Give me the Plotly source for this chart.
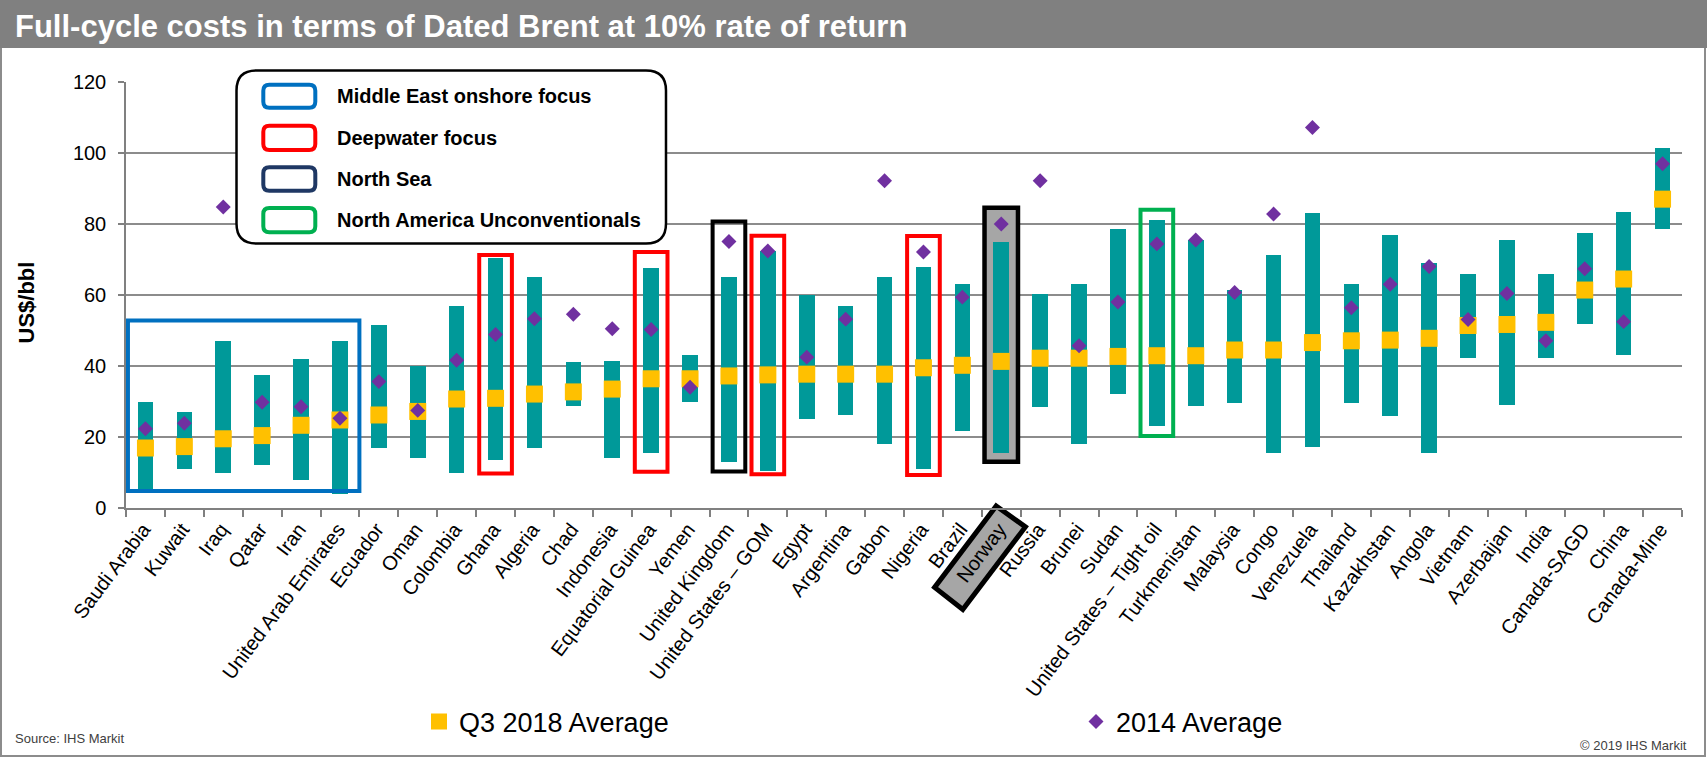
import plotly.graph_objects as go

# ---------------- data ----------------
categories = ["Saudi Arabia", "Kuwait", "Iraq", "Qatar", "Iran", "United Arab Emirates", "Ecuador",
              "Oman", "Colombia", "Ghana", "Algeria", "Chad", "Indonesia", "Equatorial Guinea", "Yemen",
              "United Kingdom", "United States \u2013 GOM", "Egypt", "Argentina", "Gabon", "Nigeria",
              "Brazil", "Norway", "Russia", "Brunei", "Sudan", "United States \u2013 Tight oil",
              "Turkmenistan", "Malaysia", "Congo", "Venezuela", "Thailand", "Kazakhstan", "Angola",
              "Vietnam", "Azerbaijan", "India", "Canada-SAGD", "China", "Canada-Mine"]
range_low = [5, 11, 10, 12, 8, 4, 17, 14, 10, 13.5, 17, 28.6, 14, 15.4, 30, 13, 10.3, 25, 26.2, 18,
             11, 21.8, 15.6, 28.4, 18, 32, 23.2, 28.6, 29.7, 15.4, 17.3, 29.7, 26, 15.4, 42.2, 29,
             42.2, 51.7, 43, 78.6]
range_high = [30, 27, 47, 37.4, 42, 47, 51.5, 40, 57, 70.5, 65, 41, 41.5, 67.5, 43, 65, 72.5, 60, 57,
              65, 68, 63, 75, 60.3, 63, 78.5, 81, 75.5, 61.5, 71.2, 83, 63.2, 77, 69, 66, 75.5, 66,
              77.5, 83.5, 101.5]
avg_q3_2018 = [16.9, 17.3, 19.5, 20.4, 23.3, 24.8, 26.2, 27.2, 30.7, 30.9, 32.1, 32.7, 33.5, 36.4,
               36.4, 37.2, 37.5, 37.7, 37.7, 37.7, 39.5, 40.2, 41.3, 42.2, 42.2, 42.7, 42.9, 42.9,
               44.5, 44.5, 46.6, 47.1, 47.3, 47.8, 51.4, 51.7, 52.3, 61.4, 64.5, 87]
avg_2014 = [22.3, 23.9, 84.8, 29.8, 28.5, 25.3, 35.6, 27.5, 41.6, 48.9, 53.3, 54.6, 50.5, 50.3, 34,
            75.1, 72.4, 42.5, 53.2, 92.2, 72.1, 59.4, 80, 92.2, 45.7, 58, 74.4, 75.5, 60.7, 82.8,
            107.2, 56.4, 63, 68, 53.1, 60.4, 47.1, 67.4, 52.5, 97]
y_ticks = [0, 20, 40, 60, 80, 100, 120]

group_labels = ["Middle East onshore focus", "Deepwater focus", "North Sea", "North America Unconventionals"]

# ---------------- styling ----------------
FONT = "Liberation Sans, Arial, sans-serif"
W, H = 1707, 757
L, R, T, B = 126, 25, 82, 249
PW, PH = W - L - R, H - T - B

BLUE, RED, NAVY, GREEN, BLACK = "#0070C0", "#FF0000", "#1F3864", "#00B050", "#000000"


def px(x):
    return (x - L) / PW


def py(y):
    return (H - B - y) / PH


def rrect(x0, y0, x1, y1, r):
    pts = [("M", [(x0 + r, y0)]), ("L", [(x1 - r, y0)]), ("Q", [(x1, y0), (x1, y0 + r)]),
           ("L", [(x1, y1 - r)]), ("Q", [(x1, y1), (x1 - r, y1)]), ("L", [(x0 + r, y1)]),
           ("Q", [(x0, y1), (x0, y1 - r)]), ("L", [(x0, y0 + r)]), ("Q", [(x0, y0), (x0 + r, y0)])]
    s = ""
    for cmd, ps in pts:
        s += cmd + " ".join(f"{px(a):.5f},{py(b):.5f}" for a, b in ps) + " "
    return s + "Z"


fig = go.Figure()

fig.add_trace(go.Bar(
    x=categories, y=[h - l for h, l in zip(range_high, range_low)], base=range_low,
    width=0.4, marker=dict(color="#009999", line=dict(width=0)), showlegend=False, hoverinfo="skip"))

fig.add_trace(go.Scatter(
    x=categories, y=avg_q3_2018, mode="markers", name="Q3 2018 Average",
    marker=dict(symbol="square", size=17, color="#FFC000", line=dict(width=0)), legend="legend"))

fig.add_trace(go.Scatter(
    x=categories, y=avg_2014, mode="markers", name="2014 Average",
    marker=dict(symbol="diamond", size=11.5, color="#7030A0", line=dict(width=0)), legend="legend2"))

shapes = []
# highlight boxes around countries (category index based)
idx = {c: i for i, c in enumerate(categories)}
box_specs = [
    ("Ghana", RED, 9.7, 71.3), ("Equatorial Guinea", RED, 10.2, 72.1),
    ("United Kingdom", BLACK, 10.3, 80.7), ("United States \u2013 GOM", RED, 9.5, 76.7),
    ("Nigeria", RED, 9.3, 76.6), ("United States \u2013 Tight oil", GREEN, 20.3, 84.0),
]
for name, col, y0, y1 in box_specs:
    i = idx[name]
    shapes.append(dict(type="rect", xref="x", yref="y", x0=i - 0.42, x1=i + 0.42, y0=y0, y1=y1,
                       line=dict(color=col, width=4), layer="above"))
# Norway gray box behind its bar
iN = idx["Norway"]
shapes.append(dict(type="rect", xref="x", yref="y", x0=iN - 0.43, x1=iN + 0.43, y0=13.0, y1=84.6,
                   line=dict(color=BLACK, width=4.5), fillcolor="#A6A6A6", layer="between"))
# Middle East box
shapes.append(dict(type="rect", xref="x", yref="y", x0=-0.45, x1=5.5, y0=4.8, y1=52.8,
                   line=dict(color=BLUE, width=4), layer="above"))

# title bar & border
shapes.append(dict(type="rect", xref="paper", yref="paper", x0=px(0), x1=px(W), y0=py(48), y1=py(0),
                   fillcolor="#808080", line=dict(width=0), layer="above"))
shapes.append(dict(type="rect", xref="paper", yref="paper", x0=px(1), x1=px(W - 2), y0=py(H - 1), y1=py(1),
                   line=dict(color="#8C8C8C", width=2), layer="below"))

# Norway label highlight (rotated box)
corners = [(996.2, 506.0), (1025.4, 526.9), (962.8, 609.4), (934.6, 587.4)]
path = "M" + " L".join(f"{px(a):.5f},{py(b):.5f}" for a, b in corners) + " Z"
shapes.append(dict(type="path", xref="paper", yref="paper", path=path, fillcolor="#A6A6A6",
                   line=dict(color=BLACK, width=5), layer="below"))

# group legend box
shapes.append(dict(type="path", xref="paper", yref="paper", path=rrect(236.5, 70.5, 666, 243.5, 20),
                   fillcolor="white", line=dict(color=BLACK, width=2.5), layer="above"))
sw_cols = [BLUE, RED, NAVY, GREEN]
sw_y = [(84.7, 107.7), (125.7, 150.0), (167.3, 190.7), (208.0, 232.3)]
annotations = []
for col, (a, b), lab in zip(sw_cols, sw_y, group_labels):
    shapes.append(dict(type="path", xref="paper", yref="paper", path=rrect(263.3, a, 315.3, b, 6),
                       fillcolor="white", line=dict(color=col, width=4), layer="above"))
    annotations.append(dict(xref="paper", yref="paper", x=px(334.7), y=py((a + b) / 2), text=f"<b>{lab}</b>",
                            showarrow=False, xanchor="left", yanchor="middle",
                            font=dict(family=FONT, size=20, color="black")))

annotations += [
    dict(xref="paper", yref="paper", x=px(12.7), y=py(26), text="<b>Full-cycle costs in terms of Dated Brent at 10% rate of return</b>",
         showarrow=False, xanchor="left", yanchor="middle", font=dict(family=FONT, size=31, color="white")),
    dict(xref="paper", yref="paper", x=px(26), y=py(302.5), text="<b>US$/bbl</b>", textangle=-90,
         showarrow=False, xanchor="center", yanchor="middle", font=dict(family=FONT, size=22, color="black")),
    dict(xref="paper", yref="paper", x=px(12.7), y=py(738), text="Source: IHS Markit",
         showarrow=False, xanchor="left", yanchor="middle", font=dict(family=FONT, size=13, color="#404040")),
    dict(xref="paper", yref="paper", x=px(1689), y=py(745), text="\u00a9 2019 IHS Markit",
         showarrow=False, xanchor="right", yanchor="middle", font=dict(family=FONT, size=13, color="#404040")),
]

fig.update_layout(
    width=W, height=H, margin=dict(l=L, r=R, t=T, b=B, autoexpand=False),
    paper_bgcolor="white", plot_bgcolor="rgba(0,0,0,0)",
    font=dict(family=FONT, color="black"),
    barmode="overlay", bargap=0,
    shapes=shapes, annotations=annotations,
    legend=dict(x=px(419), y=py(722), xanchor="left", yanchor="middle", orientation="h",
                font=dict(family=FONT, size=27, color="black"), bgcolor="rgba(0,0,0,0)", itemwidth=30),
    legend2=dict(x=px(1076), y=py(722), xanchor="left", yanchor="middle", orientation="h",
                 font=dict(family=FONT, size=27, color="black"), bgcolor="rgba(0,0,0,0)", itemwidth=30),
    xaxis=dict(type="category", tickmode="linear", tick0=0, dtick=1, tickson="boundaries",
               ticks="outside", ticklen=7, tickcolor="#808080", tickwidth=1.5,
               showline=True, linecolor="#808080", linewidth=1.5, showgrid=False,
               tickangle=-53, ticklabelstandoff=0, ticklabelshift=-2,
               tickfont=dict(family=FONT, size=20, color="black"), range=[-0.5, 39.5]),
    yaxis=dict(range=[0, 120], tickmode="array", tickvals=y_ticks, showgrid=True, gridcolor="#8C8C8C",
               gridwidth=1.5, showline=True, linecolor="#808080", linewidth=1.5, zeroline=False,
               ticks="outside", ticklen=6, tickcolor="#808080", tickwidth=1.5, ticklabelstandoff=8,
               tickfont=dict(family=FONT, size=20, color="black")),
)

fig.write_html("out.html", config={"displayModeBar": False},
               post_script="document.body.style.margin='0';")
